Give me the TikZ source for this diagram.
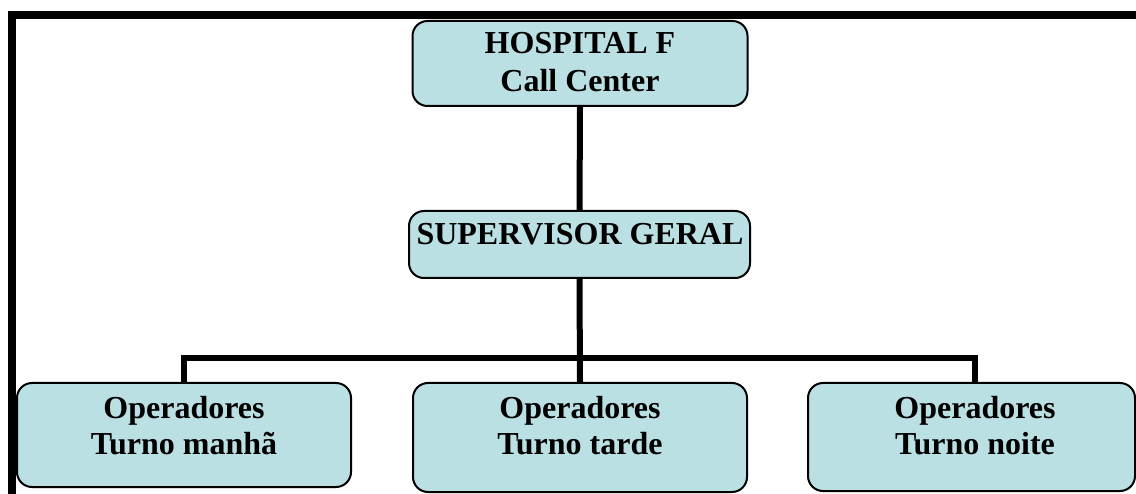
\documentclass[tikz,border=0pt]{standalone}
\usepackage{fontspec}
\setmainfont{Liberation Serif}
\definecolor{boxfill}{RGB}{187,224,227}
\begin{document}
\begin{tikzpicture}[x=1pt,y=-1pt,
  box/.style={draw=black, line width=2pt, fill=boxfill, rounded corners=15pt, inner sep=0pt},
  conn/.style={line width=6pt},
  frameline/.style={line width=8pt, line join=miter},
  lbl/.style={font=\fontsize{32}{38}\selectfont\bfseries, align=center, inner sep=0pt, anchor=north},
  lblb/.style={lbl, font=\fontsize{32}{36}\selectfont\bfseries}]
\useasboundingbox (0,0) rectangle (1136,494);
\clip (0,0) rectangle (1136,494);
% frame
\draw[frameline] (12,520) -- (12,15.5) -- (1160,15.5);
% boxes
\node[box, minimum width=335pt, minimum height=85pt] (top) at (580,63.5) {};
\node[box, minimum width=341pt, minimum height=67pt] (sup) at (579.5,244.5) {};
\node[box, minimum width=334pt, minimum height=104pt] (left) at (184,435) {};
\node[box, minimum width=334pt, minimum height=109pt] (mid) at (580,437.5) {};
\node[box, minimum width=327pt, minimum height=108pt] (right) at (971.5,437) {};
% connectors
\coordinate (bar) at (580,358);
\draw[conn] (top.south) -- (sup.north);
\draw[conn] (sup.south) -- (mid.north);
\draw[conn] (left.north) |- (bar) -| ([xshift=3.5pt]right.north);
% labels
\node[lbl] (ttop) at (580,32.5) {HOSPITAL F\\Call Center};
\node[lbl] (tsup) at (580,223) {SUPERVISOR GERAL};
\node[lblb] (tleft) at (184,396.5) {Operadores\\Turno manhã};
\node[lblb] (tmid) at (580,396.5) {Operadores\\Turno tarde};
\node[lblb] (tright) at (975,396.5) {Operadores\\Turno noite};
\end{tikzpicture}
\end{document}
